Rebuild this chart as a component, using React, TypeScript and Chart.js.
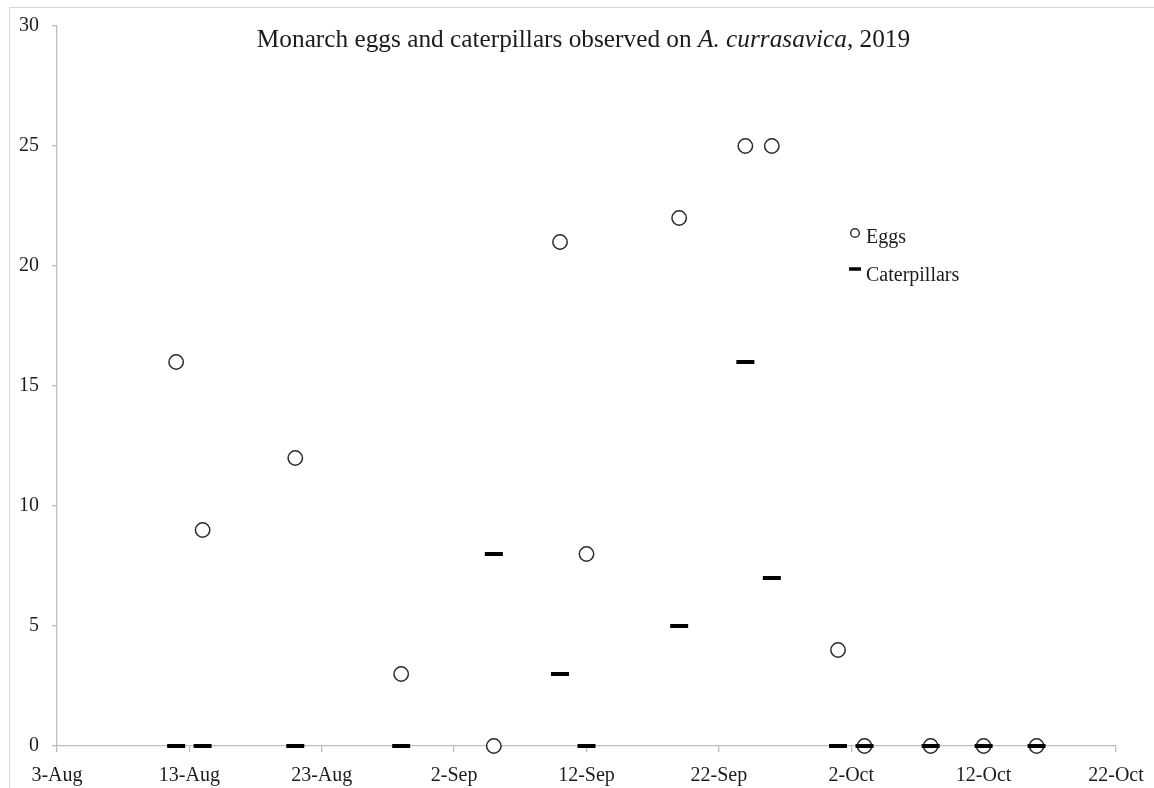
import React, { useEffect, useRef } from "react";
import { Chart, registerables } from "chart.js";

Chart.register(...registerables);

const START_DATE = "2019-08-03";
const obsDates = [
  "2019-08-12", "2019-08-14", "2019-08-21", "2019-08-29", "2019-09-05",
  "2019-09-10", "2019-09-12", "2019-09-19", "2019-09-24", "2019-09-26",
  "2019-10-01", "2019-10-03", "2019-10-08", "2019-10-12", "2019-10-16",
];
const eggs = [16, 9, 12, 3, 0, 21, 8, 22, 25, 25, 4, 0, 0, 0, 0];
const caterpillars = [0, 0, 0, 0, 8, 3, 0, 5, 16, 7, 0, 0, 0, 0, 0];
const xTickLabels = ["3-Aug", "13-Aug", "23-Aug", "2-Sep", "12-Sep", "22-Sep", "2-Oct", "12-Oct", "22-Oct"];
const X_STEP_DAYS = 10;
const yTicks = [0, 5, 10, 15, 20, 25, 30];

const SERIF = '"Liberation Serif", "Times New Roman", Times, serif';
const AXIS_GRAY = "#bdbdbd";
const TEXT = "#1c1c1c";

function dayOffset(s: string): number {
  const [y, m, d] = s.split("-").map(Number);
  const [y0, m0, d0] = START_DATE.split("-").map(Number);
  return Math.round((Date.UTC(y, m - 1, d) - Date.UTC(y0, m0 - 1, d0)) / 86400000);
}

const decorPlugin = {
  id: "decor",
  beforeDraw(chart: any) {
    const ctx = chart.ctx;
    ctx.save();
    ctx.strokeStyle = "#d6d6d6";
    ctx.lineWidth = 1;
    ctx.beginPath();
    ctx.moveTo(9.5, chart.height);
    ctx.lineTo(9.5, 7.5);
    ctx.lineTo(chart.width, 7.5);
    ctx.stroke();
    ctx.restore();
  },
  afterDraw(chart: any) {
    const ctx = chart.ctx;
    ctx.save();
    const parts = [
      { t: "Monarch eggs and caterpillars observed on ", f: `25.3px ${SERIF}` },
      { t: "A. currasavica", f: `italic 25.3px ${SERIF}` },
      { t: ", 2019", f: `25.3px ${SERIF}` },
    ];
    let total = 0;
    const widths = parts.map((p) => {
      ctx.font = p.f;
      const w = ctx.measureText(p.t).width;
      total += w;
      return w;
    });
    let x = 583.5 - total / 2;
    ctx.fillStyle = TEXT;
    ctx.textBaseline = "alphabetic";
    ctx.textAlign = "left";
    parts.forEach((p, i) => {
      ctx.font = p.f;
      ctx.fillText(p.t, x, 47);
      x += widths[i];
    });

    ctx.font = `20px ${SERIF}`;
    ctx.fillText("Eggs", 866, 243);
    ctx.fillText("Caterpillars", 866, 281);
    ctx.strokeStyle = "#333";
    ctx.lineWidth = 1.5;
    ctx.beginPath();
    ctx.arc(855, 233, 4.3, 0, Math.PI * 2);
    ctx.stroke();
    ctx.strokeStyle = "#000";
    ctx.lineWidth = 3.5;
    ctx.beginPath();
    ctx.moveTo(849, 269);
    ctx.lineTo(861, 269);
    ctx.stroke();
    ctx.restore();
  },
};

export default function App() {
  const ref = useRef<HTMLCanvasElement>(null);
  useEffect(() => {
    if (!ref.current) return;
    const xs = obsDates.map(dayOffset);
    const chart = new Chart(ref.current, {
      type: "scatter",
      data: {
        datasets: [
          {
            label: "Caterpillars",
            data: xs.map((x, i) => ({ x, y: caterpillars[i] })),
            pointStyle: "line",
            radius: 9,
            hoverRadius: 9,
            borderWidth: 4,
            borderColor: "#000",
            backgroundColor: "#000",
            order: 0,
            clip: false,
          } as any,
          {
            label: "Eggs",
            data: xs.map((x, i) => ({ x, y: eggs[i] })),
            pointStyle: "circle",
            radius: 7.2,
            hoverRadius: 7.2,
            borderWidth: 1.5,
            borderColor: "#2a2a2a",
            backgroundColor: "#ffffff",
            order: 1,
            clip: false,
          } as any,
        ],
      },
      options: {
        animation: false,
        responsive: false,
        maintainAspectRatio: false,
        events: [],
        layout: { padding: { left: 0, right: 38, top: 26, bottom: 0 } },
        plugins: {
          legend: { display: false },
          title: { display: false },
          tooltip: { enabled: false },
        },
        scales: {
          x: {
            type: "linear",
            min: 0,
            max: (xTickLabels.length - 1) * X_STEP_DAYS,
            border: { display: true, color: AXIS_GRAY, width: 1.3 },
            grid: { drawOnChartArea: false, drawTicks: true, tickLength: 6, color: AXIS_GRAY, lineWidth: 1.3 },
            ticks: {
              stepSize: X_STEP_DAYS,
              autoSkip: false,
              maxRotation: 0,
              padding: 12,
              color: TEXT,
              font: { family: SERIF, size: 20 },
              callback: (v: any) => xTickLabels[Math.round(Number(v) / X_STEP_DAYS)] ?? "",
            },
            afterFit: (s: any) => { s.height = 42; s.paddingLeft = 0; s.paddingRight = 0; },
          },
          y: {
            type: "linear",
            min: yTicks[0],
            max: yTicks[yTicks.length - 1],
            border: { display: true, color: AXIS_GRAY, width: 1.3 },
            grid: { drawOnChartArea: false, drawTicks: true, tickLength: 5, color: AXIS_GRAY, lineWidth: 1.3 },
            ticks: {
              stepSize: yTicks[1] - yTicks[0],
              padding: 13,
              color: TEXT,
              font: { family: SERIF, size: 20 },
            },
            afterFit: (s: any) => { s.width = 57; },
          },
        },
      } as any,
      plugins: [decorPlugin],
    });
    return () => chart.destroy();
  }, []);
  return (
    <div style={{ position: "fixed", left: 0, top: 0, width: 1154, height: 788, background: "#fff" }}>
      <canvas ref={ref} width={1154} height={788} style={{ display: "block" }} />
    </div>
  );
}
